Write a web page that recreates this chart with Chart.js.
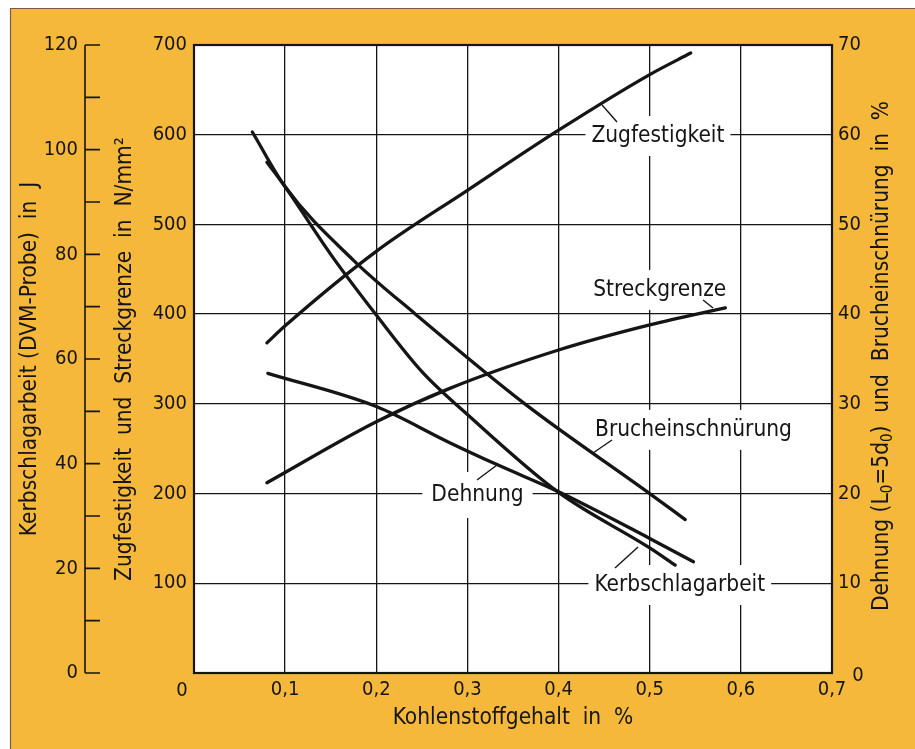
<!DOCTYPE html>
<html><head><meta charset="utf-8">
<script src="https://cdn.jsdelivr.net/npm/chart.js@4"></script>
<style>html,body{margin:0;padding:0;background:#fff;} canvas{display:block}</style>
</head><body>
<canvas id="c" width="915" height="749"></canvas>
<script>
// ---- data ----
const xTickLabels = ['0','0,1','0,2','0,3','0,4','0,5','0,6','0,7'];
const nTickLabels = ['0','100','200','300','400','500','600','700'];
const jTickLabels = ['0','20','40','60','80','100','120'];
const pTickLabels = ['0','10','20','30','40','50','60','70'];

const zugX = [0.08, 0.10, 0.20, 0.30, 0.40, 0.50, 0.545];
const zugY = [368, 387, 470, 538, 605, 667, 691];
const streckX = [0.08, 0.20, 0.28, 0.40, 0.50, 0.583];
const streckY = [212, 280, 317, 360, 388, 407];
const kerbX = [0.08, 0.10, 0.15, 0.20, 0.25, 0.30, 0.40, 0.50, 0.528];
const kerbY = [97.6, 92.9, 80.0, 68.4, 57.6, 49.4, 34.5, 23.9, 20.6];
const bruchX = [0.064, 0.10, 0.175, 0.243, 0.363, 0.50, 0.539];
const bruchY = [60.3, 54.2, 46.0, 40.0, 30.0, 20.0, 17.1];
const dehnX = [0.081, 0.20, 0.28, 0.333, 0.40, 0.50, 0.548];
const dehnY = [33.4, 29.7, 25.7, 23.2, 20.2, 15.0, 12.4];

const FONT = "'DejaVu Sans Condensed', 'DejaVu Sans', sans-serif";
const INK = '#151515';
const ORANGE = '#F5B83A';
const TXT = 22.5;   // label / title size
const TICK = 20;    // tick label size

function pts(xs, ys){ return xs.map((x,i)=>({x:x, y:ys[i]})); }

// curve labels, anchored in data units (x in %, y in N/mm²)
const curveLabels = [
  {text:'Zugfestigkeit',    x:0.509, y:598.6, lead:[[0.4477,633.2],[0.4641,614.2]]},
  {text:'Streckgrenze',     x:0.511, y:427.0, lead:[[0.5585,415.8],[0.5695,406.9]]},
  {text:'Brucheinschnürung',x:0.548, y:271.0, lead:[[0.4378,245.2],[0.4586,259.7]]},
  {text:'Dehnung',          x:0.311, y:198.4, lead:[[0.3105,215.1],[0.3325,231.9]], padX:9, padY:12},
  {text:'Kerbschlagarbeit', x:0.533, y:98.1,  lead:[[0.4619,117.0],[0.4872,140.5]]}
];

const labelFont = TXT + "px " + FONT;
const tickFont = {family: FONT, size: TICK};

const deco = {
  id: 'deco',
  beforeDraw(chart){
    const {ctx, chartArea:a} = chart;
    ctx.save();
    ctx.fillStyle = '#fff'; ctx.fillRect(0,0,chart.width,chart.height);
    ctx.fillStyle = ORANGE; ctx.fillRect(10,8,chart.width-10,chart.height-8);
    ctx.strokeStyle = '#7b5a4a'; ctx.lineWidth = 1.2;
    ctx.beginPath(); ctx.moveTo(10,8.5); ctx.lineTo(chart.width,8.5);
    ctx.moveTo(10.5,8); ctx.lineTo(10.5,chart.height); ctx.stroke();
    ctx.fillStyle = '#fff'; ctx.fillRect(a.left,a.top,a.width,a.height);
    ctx.restore();
  },
  beforeDatasetsDraw(chart){
    const {ctx, scales} = chart;
    ctx.save();
    ctx.font = labelFont;
    ctx.fillStyle = '#fff';
    curveLabels.forEach(l=>{
      const px = scales.x.getPixelForValue(l.x), py = scales.yN.getPixelForValue(l.y);
      const w = ctx.measureText(l.text).width;
      const padX = l.padX || 6, padY = l.padY || 9;
      ctx.fillRect(px - w/2 - padX, py - 11 - padY, w + 2*padX, 22 + 2*padY);
    });
    ctx.restore();
  },
  afterDatasetsDraw(chart){
    const {ctx, scales, chartArea:a} = chart;
    ctx.save();
    ctx.font = labelFont; ctx.fillStyle = INK; ctx.textAlign='center'; ctx.textBaseline='middle';
    ctx.strokeStyle = INK; ctx.lineWidth = 1.4;
    curveLabels.forEach(l=>{
      const px = scales.x.getPixelForValue(l.x), py = scales.yN.getPixelForValue(l.y);
      ctx.fillText(l.text, px, py);
      ctx.beginPath();
      ctx.moveTo(scales.x.getPixelForValue(l.lead[0][0]), scales.yN.getPixelForValue(l.lead[0][1]));
      ctx.lineTo(scales.x.getPixelForValue(l.lead[1][0]), scales.yN.getPixelForValue(l.lead[1][1]));
      ctx.stroke();
    });
    // plot frame
    ctx.lineWidth = 2.2;
    ctx.strokeRect(a.left, a.top, a.width, a.height);
    // outer Kerbschlag axis line with ticks every 10 J
    const yJ = scales.yJ, ax = 85;
    ctx.lineWidth = 1.6;
    ctx.beginPath();
    ctx.moveTo(ax, yJ.getPixelForValue(0)); ctx.lineTo(ax, yJ.getPixelForValue(120));
    for (let v=0; v<=120; v+=10){ const y=yJ.getPixelForValue(v); ctx.moveTo(ax,y); ctx.lineTo(ax+15,y); }
    ctx.stroke();
    // shared zero labels
    ctx.font = TICK + "px " + FONT;
    ctx.fillText(xTickLabels[0], a.left-12, a.bottom+18);
    ctx.fillText(pTickLabels[0], a.right+26, a.bottom+3);
    // right axis title, reading bottom to top, with subscripts
    ctx.translate(882, (a.top+a.bottom)/2 - 3);
    ctx.rotate(-Math.PI/2);
    const segs = [['Dehnung (L',0],['0',1],['=5d',0],['0',1],[')  und  Brucheinschnürung  in  %',0]];
    const fMain = TXT + "px " + FONT, fSub = "15px " + FONT;
    let total = 0;
    segs.forEach(s=>{ ctx.font = s[1]?fSub:fMain; total += ctx.measureText(s[0]).width; });
    let x = -total/2;
    ctx.textAlign='left';
    segs.forEach(s=>{ ctx.font = s[1]?fSub:fMain; ctx.fillText(s[0], x, s[1]?6:0); x += ctx.measureText(s[0]).width; });
    ctx.restore();
  }
};

const lineStyle = {borderColor: INK, borderWidth: 3.3, pointRadius: 0, cubicInterpolationMode: 'monotone', borderCapStyle:'round', fill:false};

new Chart(document.getElementById('c'), {
  type: 'line',
  data: { datasets: [
    Object.assign({label:'Zugfestigkeit', data: pts(zugX, zugY), yAxisID:'yN'}, lineStyle),
    Object.assign({label:'Streckgrenze', data: pts(streckX, streckY), yAxisID:'yN'}, lineStyle),
    Object.assign({label:'Kerbschlagarbeit', data: pts(kerbX, kerbY), yAxisID:'yJ'}, lineStyle),
    Object.assign({label:'Brucheinschnürung', data: pts(bruchX, bruchY), yAxisID:'yP'}, lineStyle),
    Object.assign({label:'Dehnung', data: pts(dehnX, dehnY), yAxisID:'yP'}, lineStyle)
  ]},
  options: {
    responsive: false, animation: false, devicePixelRatio: 1,
    layout: {padding: {top: 45, left: 0, right: 0, bottom: 0}},
    plugins: {legend: {display:false}, tooltip: {enabled:false}},
    scales: {
      x: {
        type: 'linear', min: 0, max: 0.7,
        ticks: {stepSize: 0.1, color: INK, font: tickFont, padding: 5,
          callback: (v)=>{ const i=Math.round(v*10); return i===0 ? '' : xTickLabels[i]; }},
        grid: {color: INK, lineWidth: 1.3, drawTicks: false},
        border: {display: false},
        title: {display: true, text: 'Kohlenstoffgehalt  in  %', color: INK, font: {family: FONT, size: TXT}, padding: {top: 0, bottom: 17}},
        afterFit: (s)=>{ s.height = 76; }
      },
      yN: {
        position: 'left', weight: 0, min: 0, max: 700,
        ticks: {stepSize: 100, color: INK, font: tickFont, padding: 7,
          callback: (v)=>{ const i=Math.round(v/100); return i===0 ? '' : nTickLabels[i]; }},
        grid: {color: INK, lineWidth: 1.3, drawTicks: false},
        border: {display: false},
        title: {display: true, text: 'Zugfestigkeit  und  Streckgrenze  in  N/mm²', color: INK, font: {family: FONT, size: TXT}, padding: {top: 2, bottom: 0}},
        afterFit: (s)=>{ s.width = 84; }
      },
      yJ: {
        position: 'left', weight: 1, min: 0, max: 120,
        ticks: {stepSize: 20, color: INK, font: tickFont, padding: 32,
          callback: (v)=> jTickLabels[Math.round(v/20)]},
        grid: {display: false, drawTicks: false},
        border: {display: false},
        title: {display: true, text: 'Kerbschlagarbeit (DVM-Probe)  in  J', color: INK, font: {family: FONT, size: TXT}, padding: {top: 17, bottom: 0}},
        afterFit: (s)=>{ s.width = 110; }
      },
      yP: {
        position: 'right', min: 0, max: 70,
        ticks: {stepSize: 10, color: INK, font: tickFont, padding: 6,
          callback: (v)=>{ const i=Math.round(v/10); return i===0 ? '' : pTickLabels[i]; }},
        grid: {display: false, drawTicks: false},
        border: {display: false},
        afterFit: (s)=>{ s.width = 83; }
      }
    }
  },
  plugins: [deco]
});
</script>
</body></html>
